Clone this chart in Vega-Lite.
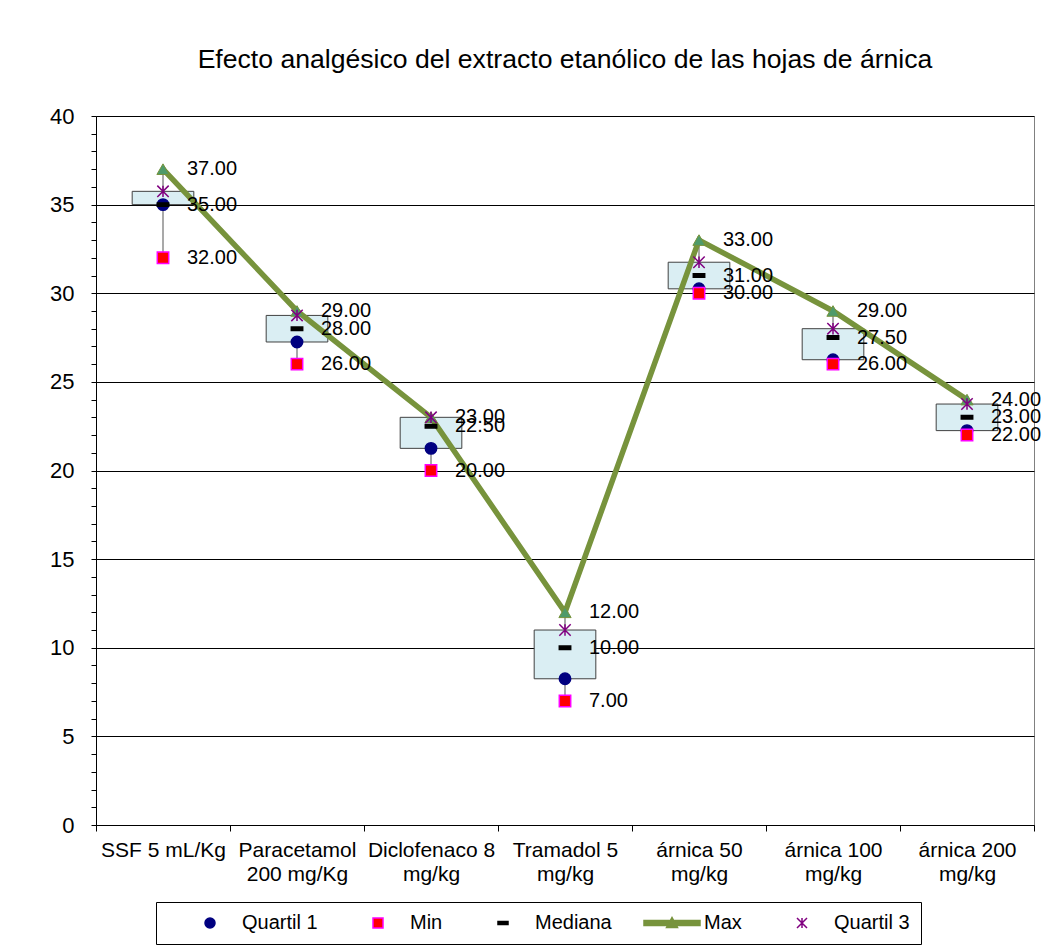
{
  "$schema": "https://vega.github.io/schema/vega-lite/v6.json",
  "width": 938,
  "height": 709,
  "padding": {"left": 49, "top": 47, "right": 0, "bottom": 0},
  "title": {
    "text": "Efecto analgésico del extracto etanólico de las hojas de árnica",
    "font": "Liberation Sans",
    "fontSize": 26.6,
    "fontWeight": "normal",
    "color": "#000000",
    "anchor": "middle",
    "offset": 31
  },
  "config": {
    "view": {"stroke": "#808080", "strokeWidth": 1},
    "legend": {
      "orient": "none",
      "legendX": 60,
      "legendY": 786,
      "direction": "horizontal",
      "columns": 5,
      "strokeColor": "#000000",
      "padding": 11,
      "symbolOffset": 33,
      "labelFont": "Liberation Sans",
      "labelFontSize": 20,
      "labelColor": "#000000",
      "labelOffset": 22,
      "columnPadding": 17,
      "symbolSize": 100,
      "symbolStrokeWidth": 1.5,
      "title": null
    }
  },
  "data": {
    "values": [
      {"grupo": "SSF 5 mL/Kg", "Quartil 1": 35, "Min": 32, "Mediana": 35, "Max": 37, "Quartil 3": 35.75},
      {"grupo": "Paracetamol 200 mg/Kg", "Quartil 1": 27.25, "Min": 26, "Mediana": 28, "Max": 29, "Quartil 3": 28.75},
      {"grupo": "Diclofenaco 8 mg/kg", "Quartil 1": 21.25, "Min": 20, "Mediana": 22.5, "Max": 23, "Quartil 3": 23},
      {"grupo": "Tramadol 5 mg/kg", "Quartil 1": 8.25, "Min": 7, "Mediana": 10, "Max": 12, "Quartil 3": 11},
      {"grupo": "árnica 50 mg/kg", "Quartil 1": 30.25, "Min": 30, "Mediana": 31, "Max": 33, "Quartil 3": 31.75},
      {"grupo": "árnica 100 mg/kg", "Quartil 1": 26.25, "Min": 26, "Mediana": 27.5, "Max": 29, "Quartil 3": 28},
      {"grupo": "árnica 200 mg/kg", "Quartil 1": 22.25, "Min": 22, "Mediana": 23, "Max": 24, "Quartil 3": 23.75}
    ]
  },
  "encoding": {
    "x": {
      "field": "grupo",
      "type": "nominal",
      "sort": null,
      "title": null,
      "scale": {"paddingInner": 0, "paddingOuter": 0},
      "axis": {
        "labelAngle": 0,
        "labelFont": "Liberation Sans",
        "labelFontSize": 21,
        "labelColor": "#000000",
        "labelPadding": 8,
        "labelLineHeight": 24,
        "domainColor": "#000000",
        "tickColor": "#000000",
        "tickSize": 6,
        "tickBand": "extent",
        "grid": false,
        "labelExpr": "datum.label == 'Paracetamol 200 mg/Kg' ? ['Paracetamol', '200 mg/Kg'] : split(replace(datum.label, ' mg/', '|mg/'), '|')"
      }
    }
  },
  "layer": [
    {
      "mark": {"type": "rule", "color": "#707070", "strokeWidth": 1.2},
      "encoding": {
        "y": {
          "field": "Min",
          "type": "quantitative",
          "title": null,
          "scale": {"domain": [0, 40], "nice": false},
          "axis": {
            "values": [0,1,2,3,4,5,6,7,8,9,10,11,12,13,14,15,16,17,18,19,20,21,22,23,24,25,26,27,28,29,30,31,32,33,34,35,36,37,38,39,40],
            "tickCount": 41,
            "labelOverlap": false,
            "labelExpr": "datum.value % 5 === 0 ? datum.label : ''",
            "labelFont": "Liberation Sans",
            "labelFontSize": 22,
            "labelColor": "#000000",
            "labelPadding": 17,
            "domainColor": "#000000",
            "tickColor": "#000000",
            "tickSize": 5,
            "grid": true,
            "gridColor": "#000000",
            "gridWidth": 1,
            "gridOpacity": {"condition": {"test": "datum.value % 5 === 0", "value": 1}, "value": 0}
          }
        },
        "y2": {"field": "Max"}
      }
    },
    {
      "mark": {"type": "bar", "fill": "#DAEEF3", "stroke": "#404040", "strokeWidth": 1, "width": {"band": 0.46}},
      "encoding": {
        "y": {"field": "Quartil 1", "type": "quantitative", "title": null},
        "y2": {"field": "Quartil 3"}
      }
    },
    {
      "mark": {"type": "line", "color": "#77933C", "strokeWidth": 5.5},
      "encoding": {
        "y": {"field": "Max", "type": "quantitative", "title": null}
      }
    },
    {
      "mark": {"type": "point", "shape": "triangle-up", "filled": true, "fill": "#4E9A6A", "stroke": "#77933C", "strokeWidth": 1, "size": 150, "opacity": 1},
      "encoding": {
        "y": {"field": "Max", "type": "quantitative", "title": null}
      }
    },
    {
      "transform": [
        {"fold": ["Quartil 1", "Min", "Mediana", "Max", "Quartil 3"], "as": ["serie", "valor"]},
        {"filter": "datum.serie != 'Max'"}
      ],
      "mark": {"type": "point", "filled": true, "size": 130, "strokeWidth": 1.5, "opacity": 1},
      "encoding": {
        "y": {"field": "valor", "type": "quantitative", "title": null},
        "shape": {
          "field": "serie",
          "type": "nominal",
          "title": null,
          "scale": {
            "domain": ["Quartil 1", "Min", "Mediana", "Max", "Quartil 3"],
            "range": ["circle", "square", "M-1,-0.3H1V0.3H-1Z", "M-5.6,-0.5H5.6V0.5H-5.6ZM-1.1,0.9L0,-1.1L1.1,0.9Z", "M-1,-1L1,1M-1,1L1,-1M0,-1L0,1"]
          }
        },
        "fill": {
          "field": "serie",
          "type": "nominal",
          "title": null,
          "scale": {
            "domain": ["Quartil 1", "Min", "Mediana", "Max", "Quartil 3"],
            "range": ["#000080", "#FF0000", "#000000", "#77933C", "#800080"]
          }
        },
        "stroke": {
          "field": "serie",
          "type": "nominal",
          "title": null,
          "scale": {
            "domain": ["Quartil 1", "Min", "Mediana", "Max", "Quartil 3"],
            "range": ["#000080", "#FF00FF", "#000000", "#77933C", "#800080"]
          }
        }
      }
    },
    {
      "transform": [
        {"fold": ["Max", "Mediana", "Min"], "as": ["serie", "valor"]}
      ],
      "mark": {"type": "text", "align": "left", "baseline": "middle", "dx": 24, "font": "Liberation Sans", "fontSize": 20, "color": "#000000"},
      "encoding": {
        "y": {"field": "valor", "type": "quantitative", "title": null},
        "text": {"field": "valor", "type": "quantitative", "format": ".2f"}
      }
    }
  ]
}
